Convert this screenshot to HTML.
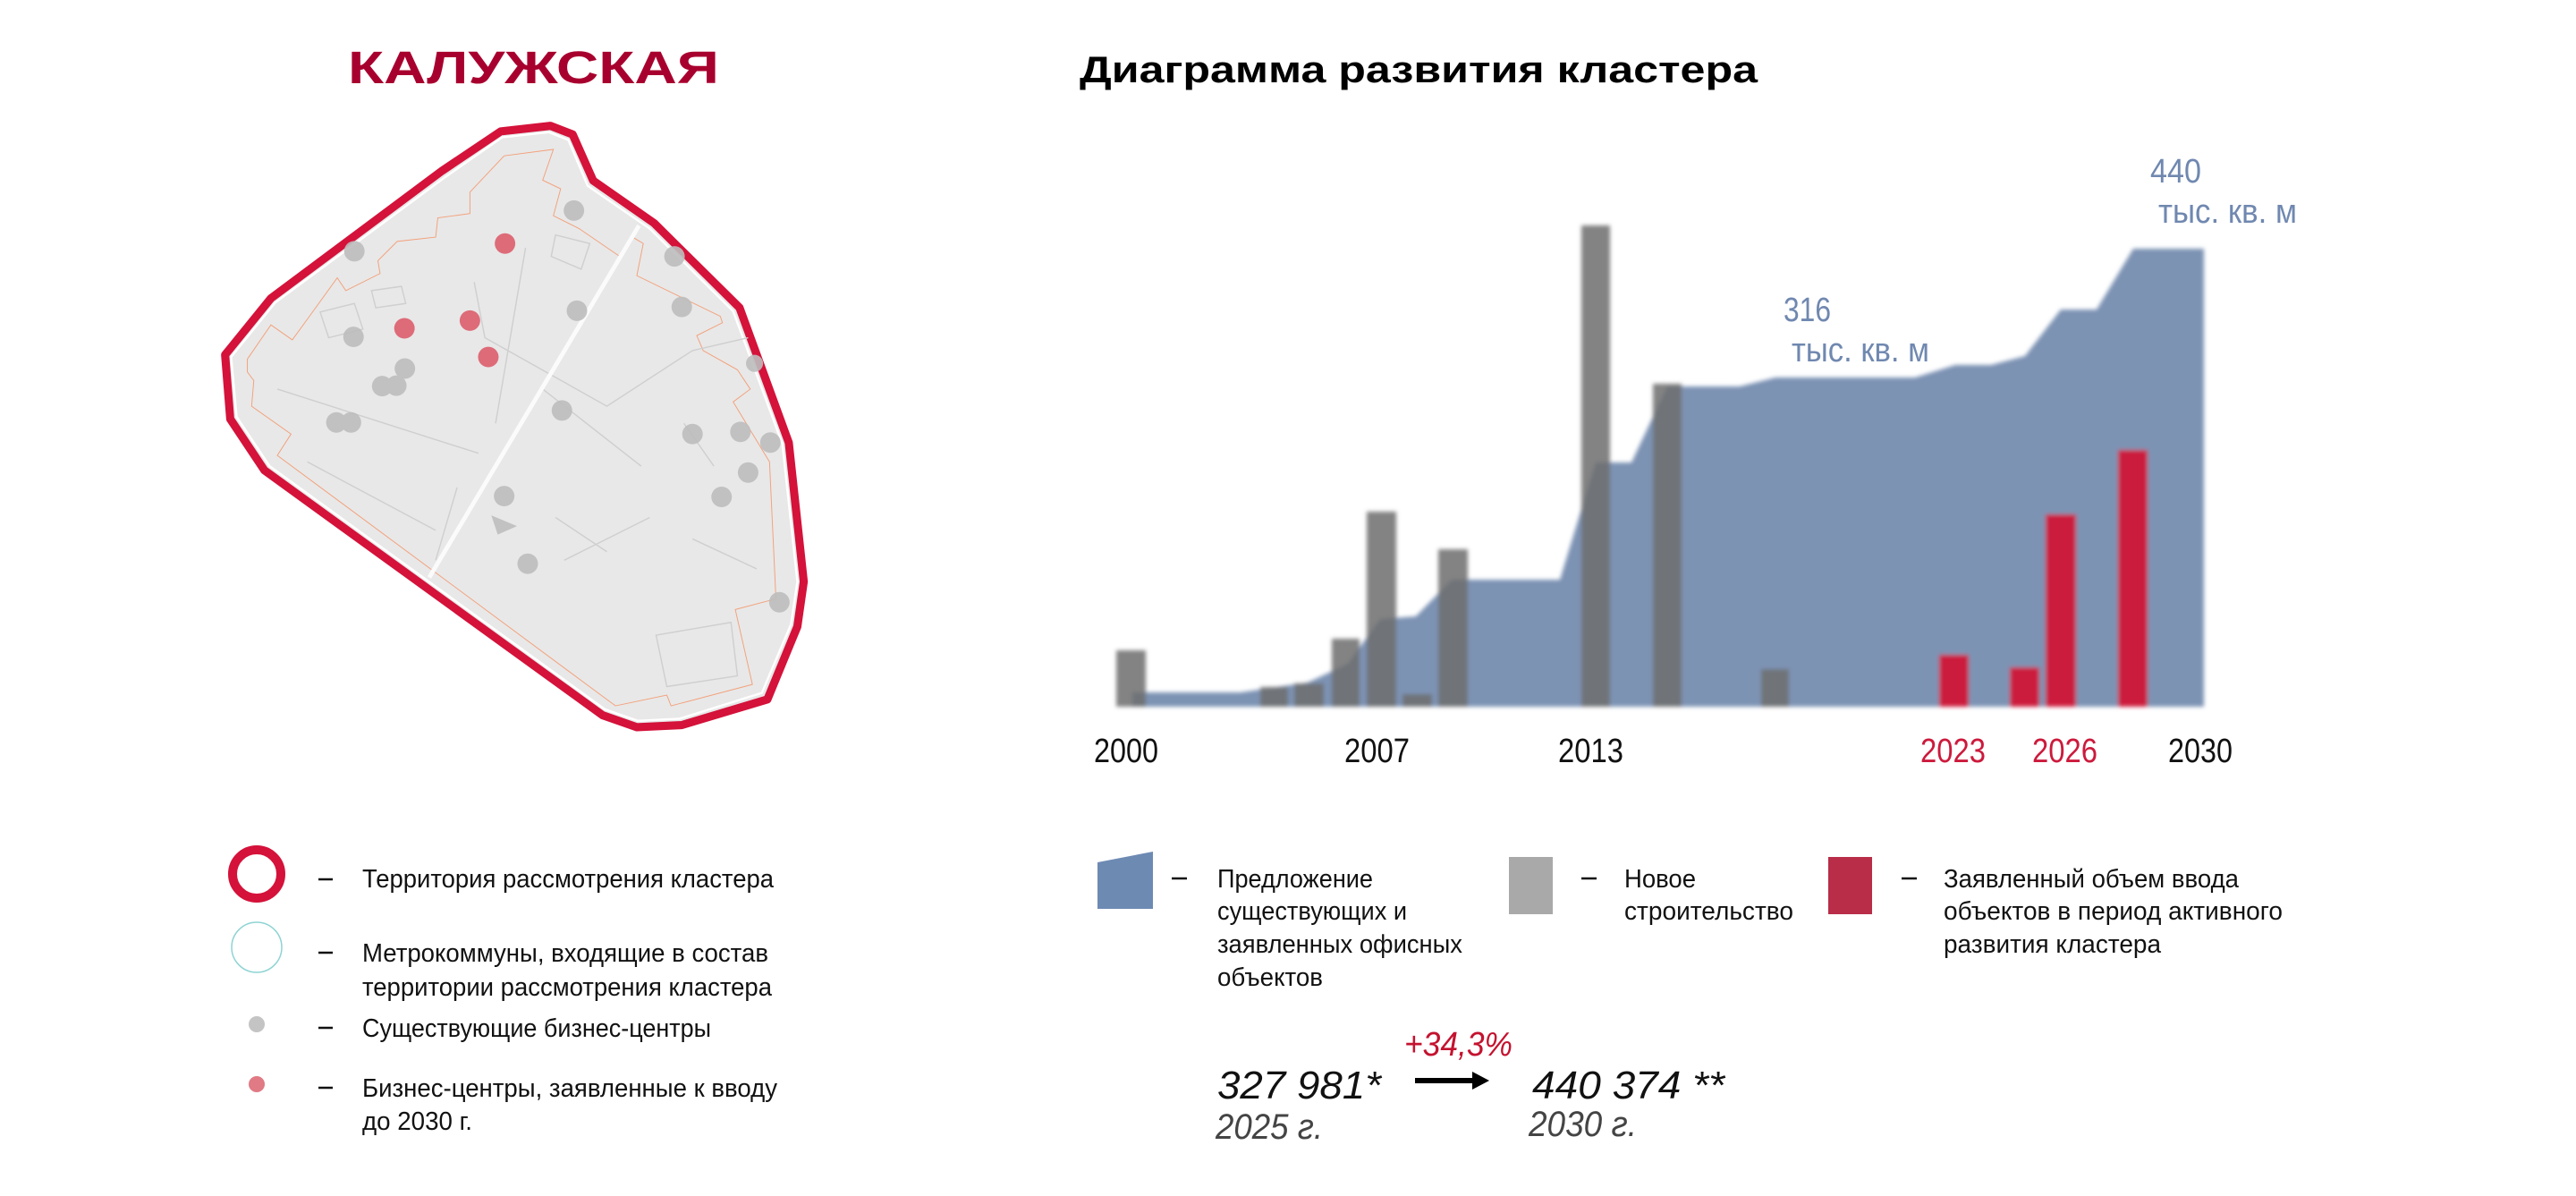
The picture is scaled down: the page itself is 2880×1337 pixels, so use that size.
<!DOCTYPE html>
<html><head><meta charset="utf-8"><style>
html,body{margin:0;padding:0;background:#fff;}
svg{display:block;}
text{font-family:"Liberation Sans Narrow","Liberation Sans","Noto Sans CJK SC",sans-serif;}
.b{font-family:"Liberation Sans","Noto Sans CJK SC",sans-serif;font-weight:bold;}
</style></head><body>
<svg width="2880" height="1337" viewBox="0 0 2880 1337" xmlns="http://www.w3.org/2000/svg">
<defs>
<filter id="bl" x="-5%" y="-5%" width="110%" height="110%"><feGaussianBlur stdDeviation="2.5"/></filter>
</defs>
<rect width="2880" height="1337" fill="#fff"/>

<!-- Titles -->
<text class="b" x="389" y="93" font-size="51" fill="#a8002e" textLength="415" lengthAdjust="spacingAndGlyphs">КАЛУЖСКАЯ</text>
<text class="b" x="1207" y="92" font-size="42" fill="#000" textLength="758" lengthAdjust="spacingAndGlyphs">Диаграмма развития кластера</text>

<!-- Map -->
<g transform="translate(200,100) scale(0.4785)">
  <polygon points="752,98 868,85 920,105 968,213 1110,312 1310,510 1425,825 1460,1150 1445,1255 1375,1425 1175,1485 1070,1490 990,1462 200,890 120,770 108,620 215,488 615,190" fill="#e8e8e8" stroke="#d4123a" stroke-width="19" stroke-linejoin="round"/>
  <polygon points="755,112 865,100 910,118 955,225 1100,325 1295,518 1410,828 1445,1150 1430,1250 1362,1410 1170,1470 1072,1475 995,1448 212,880 135,765 122,625 225,498 622,205" fill="none" stroke="#fff" stroke-width="5"/>
  <polyline points="760,155 875,140 850,212 892,232 875,295 935,325 1030,390 1060,345 1085,360 1070,435 1265,530 1270,545 1210,575 1225,610 1305,655 1335,700 1295,730 1380,870 1395,1190 1300,1215 1340,1390 1150,1440 1140,1415 1020,1440 230,855 262,805 170,740 175,680 160,660 160,630 215,550 265,585 305,530 370,440 390,470 470,430 465,400 510,355 600,345 605,300 680,290 680,240 760,155" fill="none" stroke="#f3a07a" stroke-width="2"/>
  <g stroke="#cfcfcf" stroke-width="3" fill="none">
    <path d="M690 450 L715 580 L1000 740 L1200 610 L1330 580"/>
    <path d="M810 370 L740 780"/>
    <path d="M300 870 L600 1030 M230 700 L700 850 M850 700 L1080 880 M880 1000 L1000 1080 M1115 1275 L1290 1245 L1305 1370 L1140 1395 Z"/>
    <path d="M330 520 L410 500 L430 560 L350 580 Z M450 470 L520 460 L530 500 L460 510 Z M880 340 L960 360 L940 420 L870 390 Z"/>
    <path d="M600 1100 L650 930 M900 1100 L1100 1000 M1200 1050 L1350 1120 M1180 780 L1250 880"/>
  </g>
  <line x1="1075" y1="318" x2="585" y2="1140" stroke="#fbfbfb" stroke-width="10"/>
  <polygon points="730,995 790,1020 745,1040" fill="#c2c2c2"/>
  <g fill="#bdbdbd" opacity="0.9">
    <circle cx="923" cy="283" r="24"/><circle cx="410" cy="378" r="24"/><circle cx="930" cy="517" r="24"/>
    <circle cx="1158" cy="390" r="24"/><circle cx="1175" cy="508" r="24"/><circle cx="408" cy="578" r="24"/>
    <circle cx="528" cy="652" r="24"/><circle cx="475" cy="693" r="24"/><circle cx="508" cy="692" r="24"/>
    <circle cx="368" cy="778" r="24"/><circle cx="402" cy="778" r="24"/><circle cx="895" cy="750" r="24"/>
    <circle cx="1200" cy="805" r="24"/><circle cx="1312" cy="800" r="24"/><circle cx="1382" cy="825" r="24"/>
    <circle cx="1330" cy="895" r="24"/><circle cx="1268" cy="952" r="24"/><circle cx="760" cy="950" r="24"/>
    <circle cx="815" cy="1108" r="24"/><circle cx="1403" cy="1198" r="24"/><circle cx="1345" cy="640" r="20"/>
  </g>
  <g fill="#de6b78">
    <circle cx="762" cy="360" r="24"/><circle cx="527" cy="558" r="24"/><circle cx="680" cy="540" r="24"/><circle cx="723" cy="625" r="24"/>
  </g>
</g>

<!-- Chart -->
<g filter="url(#bl)">
  <polygon points="1266,774 1387,774 1462,763 1507,742 1543,692 1583,689 1623,648 1744,648 1784,517 1824,517 1864,432 1945,432 1985,422 2141,422 2186,408 2226,408 2264,398 2304,346 2344,346 2385,278 2464,278 2464,790 1266,790" fill="#7d93b4"/>
  <g fill="#6e6e6e" opacity="0.85">
    <rect x="1248" y="727" width="33" height="63"/>
    <rect x="1409" y="768" width="31" height="22"/>
    <rect x="1447" y="764" width="33" height="26"/>
    <rect x="1489" y="714" width="31" height="76"/>
    <rect x="1528" y="572" width="33" height="218"/>
    <rect x="1568" y="776" width="33" height="14"/>
    <rect x="1608" y="614" width="33" height="176"/>
    <rect x="1768" y="252" width="32" height="538"/>
    <rect x="1848" y="429" width="32" height="361"/>
    <rect x="1969" y="748" width="31" height="42"/>
  </g>
  <g fill="#cc1a3c">
    <rect x="2168" y="732" width="33" height="58"/>
    <rect x="2247" y="746" width="33" height="44"/>
    <rect x="2287" y="575" width="34" height="215"/>
    <rect x="2368" y="503" width="33" height="287"/>
  </g>
</g>

<g font-size="38">
  <text x="1223" y="852" fill="#111" textLength="72" lengthAdjust="spacingAndGlyphs">2000</text>
  <text x="1503" y="852" fill="#111" textLength="73" lengthAdjust="spacingAndGlyphs">2007</text>
  <text x="1742" y="852" fill="#111" textLength="73" lengthAdjust="spacingAndGlyphs">2013</text>
  <text x="2147" y="852" fill="#cc1a3c" textLength="73" lengthAdjust="spacingAndGlyphs">2023</text>
  <text x="2272" y="852" fill="#cc1a3c" textLength="73" lengthAdjust="spacingAndGlyphs">2026</text>
  <text x="2424" y="852" fill="#111" textLength="72" lengthAdjust="spacingAndGlyphs">2030</text>
</g>
<g fill="#7088b0" font-size="38">
  <text x="1994" y="359" textLength="53" lengthAdjust="spacingAndGlyphs">316</text>
  <text x="2003" y="404" textLength="154" lengthAdjust="spacingAndGlyphs">тыс. кв. м</text>
  <text x="2404" y="204" textLength="57" lengthAdjust="spacingAndGlyphs">440</text>
  <text x="2413" y="249" textLength="155" lengthAdjust="spacingAndGlyphs">тыс. кв. м</text>
</g>

<!-- Left legend -->
<circle cx="287" cy="977" r="27" fill="none" stroke="#d4123a" stroke-width="10"/>
<ellipse cx="287" cy="1059" rx="28" ry="28" fill="none" stroke="#8fd3d3" stroke-width="1.5"/>
<circle cx="287" cy="1145" r="9" fill="#c4c4c4"/>
<circle cx="287" cy="1212" r="9" fill="#e07a84"/>
<g stroke="#111" stroke-width="2.5">
  <line x1="356" y1="983" x2="372" y2="983"/>
  <line x1="356" y1="1065" x2="372" y2="1065"/>
  <line x1="356" y1="1149" x2="372" y2="1149"/>
  <line x1="356" y1="1216" x2="372" y2="1216"/>
</g>
<g font-size="29" fill="#111">
  <text x="405" y="992" textLength="460" lengthAdjust="spacingAndGlyphs">Территория рассмотрения кластера</text>
  <text x="405" y="1075" textLength="454" lengthAdjust="spacingAndGlyphs">Метрокоммуны, входящие в состав</text>
  <text x="405" y="1113" textLength="458" lengthAdjust="spacingAndGlyphs">территории рассмотрения кластера</text>
  <text x="405" y="1159" textLength="390" lengthAdjust="spacingAndGlyphs">Существующие бизнес-центры</text>
  <text x="405" y="1226" textLength="464" lengthAdjust="spacingAndGlyphs">Бизнес-центры, заявленные к вводу</text>
  <text x="405" y="1263" textLength="123" lengthAdjust="spacingAndGlyphs">до 2030 г.</text>
</g>

<!-- Right legend -->
<polygon points="1227,964 1289,952 1289,1016 1227,1016" fill="#6d8ab3"/>
<rect x="1687" y="958" width="49" height="64" fill="#a9a9a9"/>
<rect x="2044" y="958" width="49" height="64" fill="#b92d48"/>
<g stroke="#111" stroke-width="2.5">
  <line x1="1310" y1="982" x2="1327" y2="982"/>
  <line x1="1768" y1="982" x2="1785" y2="982"/>
  <line x1="2126" y1="982" x2="2143" y2="982"/>
</g>
<g font-size="29" fill="#111">
  <text x="1361" y="992" textLength="174" lengthAdjust="spacingAndGlyphs">Предложение</text>
  <text x="1361" y="1028" textLength="212" lengthAdjust="spacingAndGlyphs">существующих и</text>
  <text x="1361" y="1065" textLength="274" lengthAdjust="spacingAndGlyphs">заявленных офисных</text>
  <text x="1361" y="1102" textLength="118" lengthAdjust="spacingAndGlyphs">объектов</text>
  <text x="1816" y="992" textLength="80" lengthAdjust="spacingAndGlyphs">Новое</text>
  <text x="1816" y="1028" textLength="189" lengthAdjust="spacingAndGlyphs">строительство</text>
  <text x="2173" y="992" textLength="330" lengthAdjust="spacingAndGlyphs">Заявленный объем ввода</text>
  <text x="2173" y="1028" textLength="379" lengthAdjust="spacingAndGlyphs">объектов в период активного</text>
  <text x="2173" y="1065" textLength="243" lengthAdjust="spacingAndGlyphs">развития кластера</text>
</g>

<!-- Stats -->
<g font-style="italic">
  <text x="1570" y="1180" font-size="38" fill="#c4122f" textLength="121" lengthAdjust="spacingAndGlyphs">+34,3%</text>
  <text x="1361" y="1228" font-size="44" fill="#111" textLength="183" lengthAdjust="spacingAndGlyphs">327 981*</text>
  <text x="1713" y="1228" font-size="44" fill="#111" textLength="215" lengthAdjust="spacingAndGlyphs">440 374 **</text>
  <text x="1359" y="1273" font-size="40" fill="#444" textLength="120" lengthAdjust="spacingAndGlyphs">2025 г.</text>
  <text x="1709" y="1270" font-size="40" fill="#444" textLength="121" lengthAdjust="spacingAndGlyphs">2030 г.</text>
</g>
<line x1="1582" y1="1208" x2="1650" y2="1208" stroke="#000" stroke-width="6"/>
<polygon points="1646,1198 1665,1208 1646,1218" fill="#000"/>
</svg>
</body></html>
